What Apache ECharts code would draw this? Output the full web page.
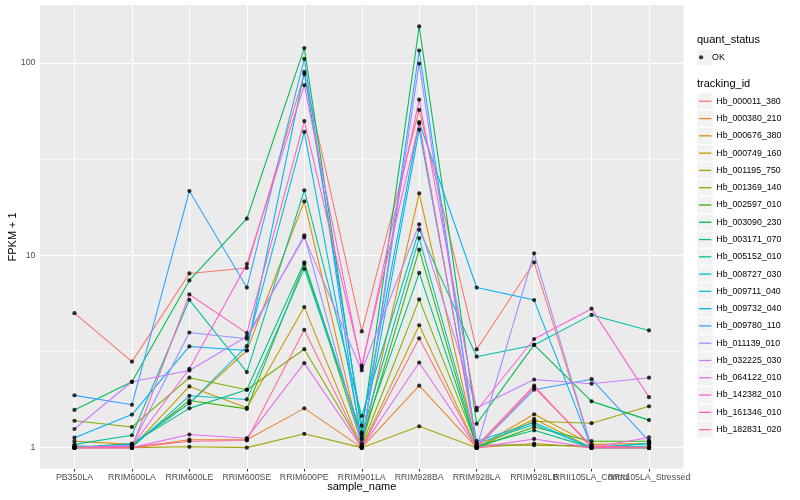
<!DOCTYPE html>
<html><head><meta charset="utf-8">
<script src="https://cdn.jsdelivr.net/npm/echarts@6/dist/echarts.min.js"></script>
<style>html,body{margin:0;padding:0;background:#fff}#c{width:800px;height:500px}</style>
</head><body><div id="c"></div>
<script>
const categories = ['PB350LA','RRIM600LA','RRIM600LE','RRIM600SE','RRIM600PE','RRIM901LA','RRIM928BA','RRIM928LA','RRIM928LB','RRII105LA_Control','RRII105LA_Stressed'];
const trackingIds = ['Hb_000011_380','Hb_000380_210','Hb_000676_380','Hb_000749_160','Hb_001195_750','Hb_001369_140','Hb_002597_010','Hb_003090_230','Hb_003171_070','Hb_005152_010','Hb_008727_030','Hb_009711_040','Hb_009732_040','Hb_009780_110','Hb_011139_010','Hb_032225_030','Hb_064122_010','Hb_142382_010','Hb_161346_010','Hb_182831_020'];
const colors = ['#F8766D','#EA8331','#D89000','#C09B00','#A3A500','#7CAE00','#39B600','#00BB4E','#00BF7D','#00C1A3','#00BFC4','#00BAE0','#00B0F6','#35A2FF','#9590FF','#C77CFF','#E76BF3','#FA62DB','#FF62BC','#FF6C91'];

const hb_000011_380 = [5.0, 2.8, 8.05, 8.6, 87.6, 4.02, 57, 3.24, 9.2, 1.0, 1.0];
const hb_000380_210 = [1.02, 1.0, 1.1, 1.1, 1.6, 1.0, 2.1, 1.0, 1.05, 1.0, 1.0];
const hb_000676_380 = [1.08, 1.04, 1.7, 3.2, 19.1, 1.02, 21, 1.0, 1.49, 1.04, 1.05];
const hb_000749_160 = [1.0, 1.0, 2.08, 1.61, 5.38, 1.0, 4.33, 1.0, 1.41, 1.0, 1.0];
const hb_001195_750 = [1.0, 1.0, 1.01, 1.0, 1.18, 1.0, 1.29, 1.0, 1.37, 1.34, 1.64];
const hb_001369_140 = [1.38, 1.28, 2.31, 2.0, 3.25, 1.02, 5.9, 1.03, 1.03, 1.02, 1.0];
const hb_002597_010 = [1.0, 1.02, 1.76, 1.59, 9.0, 1.05, 10.7, 1.0, 1.28, 1.08, 1.08];
const hb_003090_230 = [1.57, 2.2, 7.4, 15.5, 119.6, 1.2, 155, 1.33, 3.42, 1.74, 1.39];
const hb_003171_070 = [1.0, 1.05, 1.6, 2.0, 9.2, 1.13, 8.1, 1.02, 1.23, 1.0, 1.05];
const hb_005152_010 = [1.04, 1.16, 5.87, 2.47, 21.8, 1.46, 13.6, 2.97, 3.42, 4.9, 4.07];
const hb_008727_030 = [1.02, 1.0, 1.86, 1.78, 8.5, 1.17, 12.3, 1.05, 1.32, 1.0, 1.02];
const hb_009711_040 = [1.0, 1.04, 1.7, 3.37, 43.8, 1.1, 45, 1.08, 1.35, 1.0, 1.05];
const hb_009732_040 = [1.127, 1.485, 3.36, 3.2, 90, 1.3, 49.3, 6.8, 5.85, 1.0, 1.0];
const hb_009780_110 = [1.87, 1.67, 21.6, 6.8, 105, 1.0, 116, 1.0, 2.0, 2.27, 1.08];
const hb_011139_010 = [1.0, 1.03, 3.97, 3.68, 12.7, 1.02, 99.3, 1.0, 10.24, 1.0, 1.0];
const hb_032225_030 = [1.25, 2.2, 2.52, 3.78, 12.4, 2.52, 14.5, 1.61, 2.26, 2.15, 2.31];
const hb_064122_010 = [1.0, 1.0, 1.17, 1.12, 2.75, 1.0, 2.77, 1.0, 1.11, 1.0, 1.13];
const hb_142382_010 = [1.0, 1.02, 2.57, 9.0, 76.7, 2.6, 64.5, 1.56, 3.67, 5.28, 1.83];
const hb_161346_010 = [1.0, 1.0, 6.26, 3.94, 49.9, 2.67, 48.5, 1.02, 2.1, 1.0, 1.0];
const hb_182831_020 = [1.0, 1.0, 1.08, 1.09, 4.1, 1.0, 3.7, 1.0, 2.06, 1.02, 1.0];

const seriesValues = [hb_000011_380, hb_000380_210, hb_000676_380, hb_000749_160, hb_001195_750, hb_001369_140, hb_002597_010, hb_003090_230, hb_003171_070, hb_005152_010, hb_008727_030, hb_009711_040, hb_009732_040, hb_009780_110, hb_011139_010, hb_032225_030, hb_064122_010, hb_142382_010, hb_161346_010, hb_182831_020];

const yMajorTicks = [1, 10, 100];
const yMinorTicks = [3.1623, 31.623];
const xTicks = categories.map((c, i) => i);

const FONT = "'Liberation Sans', Arial, Helvetica, sans-serif";
const chart = echarts.init(document.getElementById('c'), null, {renderer: 'canvas'});

const lineSeries = trackingIds.map((id, k) => ({
  name: id, type: 'line', z: 2,
  data: seriesValues[k].map((v, i) => [i, v]),
  symbol: 'none', color: colors[k],
  lineStyle: {width: 1.07, color: colors[k]},
  emphasis: {disabled: true}, silent: true
}));

const okPoints = [];
seriesValues.forEach(vals => vals.forEach((v, i) => okPoints.push([i, v])));

const gridLineSeries = {
  name: '_grid', type: 'line', data: [], z: 1, silent: true,
  markLine: {
    silent: true, symbol: 'none', z: 1, animation: false,
    label: {show: false},
    emphasis: {disabled: true},
    data: [
      ...xTicks.map(v => ({xAxis: v, lineStyle: {color: '#FFFFFF', width: 1.07, type: 'solid'}})),
      ...yMajorTicks.map(v => ({yAxis: v, lineStyle: {color: '#FFFFFF', width: 1.07, type: 'solid'}})),
      ...yMinorTicks.map(v => ({yAxis: v, lineStyle: {color: '#FFFFFF', width: 0.53, type: 'solid'}}))
    ]
  }
};

const keyBoxes = [{type: 'rect', shape: {x: 697.3, y: 49.3, width: 15.4, height: 16}, style: {fill: '#F2F2F2'}}];
trackingIds.forEach((id, i) => keyBoxes.push({type: 'rect', shape: {x: 697.3, y: 93.2 + 17.28 * i, width: 15.4, height: 16.2}, style: {fill: '#F2F2F2'}}));

// label groups split over overlaid bottom axes so ECharts keeps overlapping labels (as ggplot does)
const labelGroups = [xTicks.slice(0, 9), [xTicks[9]], [xTicks[10]]];
const xAxes = labelGroups.map((vals, gi) => ({
  type: 'value', min: -0.6, max: 10.6, position: 'bottom', offset: 0,
  axisLine: {show: false}, splitLine: {show: false},
  axisTick: {show: gi === 0, length: 2.75, lineStyle: {color: '#333333', width: 1}, customValues: xTicks},
  axisLabel: {customValues: vals, formatter: v => categories[Math.round(v)], color: '#4D4D4D', fontSize: 8.8, margin: 4, fontFamily: FONT, hideOverlap: false, showMinLabel: true, showMaxLabel: true}
}));

chart.setOption({
  animation: false,
  backgroundColor: '#FFFFFF',
  textStyle: {fontFamily: FONT},
  grid: {left: 40, right: 116.5, top: 5, bottom: 31.3, show: true, backgroundColor: '#EBEBEB', borderWidth: 0, containLabel: false},
  xAxis: xAxes,
  yAxis: {
    type: 'log', logBase: 10, min: 0.777, max: 200.3,
    axisLine: {show: false}, splitLine: {show: false}, minorSplitLine: {show: false},
    axisTick: {show: true, length: 2.75, lineStyle: {color: '#333333', width: 1}, customValues: yMajorTicks},
    axisLabel: {customValues: yMajorTicks, formatter: v => String(v), color: '#4D4D4D', fontSize: 8.8, margin: 4.5, fontFamily: FONT, showMinLabel: true, showMaxLabel: true}
  },
  title: [
    {text: 'quant_status', left: 697, top: 34.5, padding: 0, textStyle: {fontSize: 11, fontWeight: 'normal', color: '#000000', fontFamily: FONT}},
    {text: 'tracking_id', left: 697, top: 78.5, padding: 0, textStyle: {fontSize: 11, fontWeight: 'normal', color: '#000000', fontFamily: FONT}}
  ],
  legend: [
    {data: ['OK'], orient: 'vertical', left: 699, top: 57.3 - 8.64, padding: 0, icon: 'circle', itemWidth: 12, itemHeight: 4.2, itemGap: 0, selectedMode: false,
     itemStyle: {borderWidth: 0}, textStyle: {fontSize: 8.8, lineHeight: 17.28, color: '#000000', fontFamily: FONT}},
    {data: trackingIds, orient: 'vertical', left: 699, top: 101.3 - 8.64, padding: 0, icon: 'rect', itemWidth: 12.3, itemHeight: 1.3, itemGap: 0, selectedMode: false,
     itemStyle: {borderWidth: 0}, textStyle: {fontSize: 8.8, lineHeight: 17.28, color: '#000000', fontFamily: FONT}}
  ],
  graphic: [
    ...keyBoxes,
    {type: 'text', x: 12.8, y: 236.9, rotation: Math.PI / 2, style: {text: 'FPKM + 1', fontSize: 11, fontFamily: FONT, fill: '#000000', align: 'center', verticalAlign: 'middle'}},
    {type: 'text', x: 361.75, y: 486.8, style: {text: 'sample_name', fontSize: 11, fontFamily: FONT, fill: '#000000', align: 'center', verticalAlign: 'middle'}}
  ],
  series: [
    gridLineSeries,
    ...lineSeries,
    {name: 'OK', type: 'scatter', z: 3, data: okPoints, symbol: 'circle', symbolSize: 4.2, itemStyle: {color: '#000000'}, silent: true}
  ]
});
</script>
</body></html>
